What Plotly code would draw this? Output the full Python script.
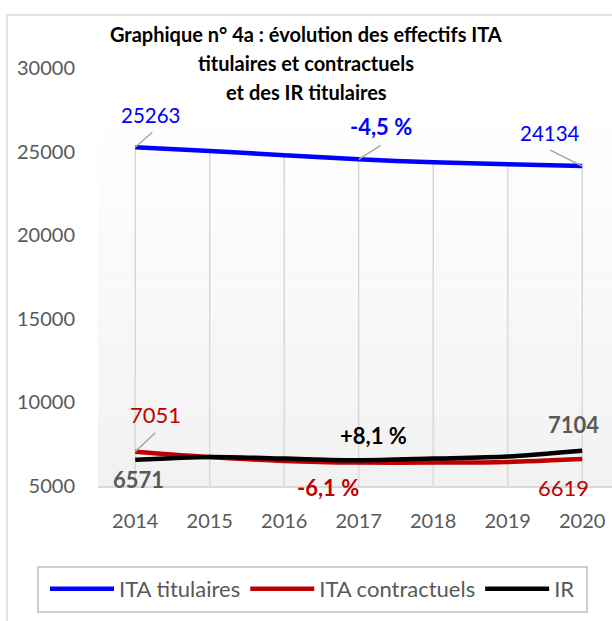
import plotly.graph_objects as go

years = [2014, 2015, 2016, 2017, 2018, 2019, 2020]
ita_titulaires = [25263, 25040, 24780, 24540, 24360, 24240, 24134]
ita_contractuels = [7051, 6730, 6500, 6400, 6400, 6440, 6619]
ir = [6571, 6740, 6640, 6540, 6640, 6760, 7104]
series_names = ["ITA titulaires", "ITA contractuels", "IR"]
y_ticks = [5000, 10000, 15000, 20000, 25000, 30000]
title_lines = ["Graphique n° 4a : évolution des effectifs ITA",
               "titulaires et contractuels",
               "et des IR titulaires"]

FONT = "Lato"
W, H = 612, 621
L, R, T, B = 98, 0, 68, 135
PW, PH = W - L - R, H - T - B


def px_x(p):
    return (p - L) / PW


def px_y(p):
    return (H - B - p) / PH


fig = go.Figure()
colors = ["#0000ff", "#c00000", "#000000"]
for name, vals, col in zip(series_names, [ita_titulaires, ita_contractuels, ir], colors):
    fig.add_trace(go.Scatter(
        x=years, y=vals, name=name, mode="lines",
        line=dict(color=col, width=4.5, shape="spline", smoothing=0.8),
        hoverinfo="x+y+name"))

shapes = []
# plot-area gradient (white at top to light grey at bottom)
n = 30
ytop, ybot = 26700, 5000
for i in range(n):
    y0 = ybot + (ytop - ybot) * i / n
    y1 = ybot + (ytop - ybot) * (i + 1) / n
    f = (i + 0.5) / n
    c = int(242 + (255 - 242) * f)
    shapes.append(dict(type="rect", xref="paper", yref="y", x0=0, x1=1, y0=y0, y1=y1,
                       fillcolor=f"rgb({c},{c},{c})", line=dict(width=0), layer="below"))
# drop lines from the highest series to the axis
for xv, yv in zip(years, ita_titulaires):
    shapes.append(dict(type="line", xref="x", yref="y", x0=xv, x1=xv, y0=5000, y1=yv,
                       line=dict(color="#d9d9d9", width=1.5), layer="below"))
# chart outer border
shapes.append(dict(type="rect", xref="paper", yref="paper",
                   x0=px_x(7), x1=2, y0=-2, y1=px_y(15),
                   line=dict(color="#d9d9d9", width=1.5), fillcolor="rgba(0,0,0,0)", layer="below"))
# legend frame
shapes.append(dict(type="rect", xref="paper", yref="paper",
                   x0=px_x(38), x1=px_x(587), y0=px_y(612), y1=px_y(567),
                   line=dict(color="#bfbfbf", width=1.5), fillcolor="white", layer="below"))


# leader lines (pixel offsets from the data point)
def leader(xv, yv, dx, dy):
    return dict(type="line", xref="x", yref="y", xsizemode="pixel", ysizemode="pixel",
                xanchor=xv, yanchor=yv, x0=0, y0=0, x1=dx, y1=dy,
                line=dict(color="#a6a6a6", width=1.5))


shapes.append(leader(years[0], ita_titulaires[0], 17, 15))
shapes.append(leader(years[3], ita_titulaires[3], 22, 14))
shapes.append(leader(years[6], ita_titulaires[6], -32, 16))
shapes.append(leader(years[0], ita_contractuels[0], 20, 19))


def pct(a, b):
    v = (b - a) / a * 100
    s = f"{v:.1f}".replace(".", ",")
    return ("+" + s if v > 0 else s) + " %"


ann = []


def lab(xv, yv, text, dx, dy, color, bold=False, size=20):
    ann.append(dict(x=xv, y=yv, xref="x", yref="y", text=f"<b>{text}</b>" if bold else text,
                    showarrow=False, xshift=dx, yshift=dy, xanchor="center", yanchor="middle",
                    font=dict(family=FONT, size=size, color=color)))


lab(years[0], ita_titulaires[0], str(ita_titulaires[0]), 15, 32, "#0000ff", size=20.5)
lab(years[3], ita_titulaires[3], pct(ita_titulaires[0], ita_titulaires[-1]), 22, 33, "#0000ff", True, 22)
lab(years[6], ita_titulaires[6], str(ita_titulaires[6]), -32, 33, "#0000ff", size=20.5)
lab(years[0], ita_contractuels[0], str(ita_contractuels[0]), 20, 37, "#c00000", size=22)
lab(years[6], ita_contractuels[6], str(ita_contractuels[6]), -19, -29, "#c00000", size=22)
lab(years[3], ita_contractuels[3], pct(ita_contractuels[0], ita_contractuels[-1]), -31, -25, "#c00000", True, 22)
lab(years[0], ir[0], str(ir[0]), 3, -20, "#595959", True, 22)
lab(years[6], ir[6], str(ir[6]), -9, 26, "#595959", True, 22)
lab(years[3], ir[3], pct(ir[0], ir[-1]), 15, 25, "#000000", True, 22)

# title lines
for txt, ypx in zip(title_lines, [34, 63, 92]):
    ann.append(dict(x=px_x(306), y=px_y(ypx),
                    xref="paper", yref="paper", text=f"<b>{txt}</b>", showarrow=False,
                    xanchor="center", yanchor="middle",
                    font=dict(family=FONT, size=20, color="#000000")))

fig.update_layout(
    width=W, height=H,
    margin=dict(l=L, r=R, t=T, b=B, pad=0, autoexpand=False),
    paper_bgcolor="white", plot_bgcolor="white",
    font=dict(family=FONT, size=20, color="#595959"),
    shapes=shapes, annotations=ann,
    showlegend=True,
    legend=dict(orientation="h", x=px_x(45), xanchor="left",
                y=px_y(568), yanchor="top",
                borderwidth=0, bgcolor="rgba(0,0,0,0)",
                font=dict(family=FONT, size=22, color="#595959"),
                itemwidth=64, tracegroupgap=0),
    xaxis=dict(range=[2013.5, 2020.40], tickvals=years, ticktext=[str(y) for y in years],
               showgrid=False, zeroline=False, showline=True, linecolor="#d9d9d9", linewidth=1.5,
               ticks="", ticklabelstandoff=16, fixedrange=True, automargin=False,
               tickfont=dict(family=FONT, size=20, color="#595959")),
    yaxis=dict(range=[5000, 30000], tickvals=y_ticks, ticktext=[str(v) for v in y_ticks],
               showgrid=False, zeroline=False,
               showline=False, ticks="", ticklabelstandoff=22, fixedrange=True, automargin=False,
               tickfont=dict(family=FONT, size=20, color="#595959")),
)

fig.write_html("out.html", config={"displayModeBar": False},
               post_script="document.body.style.margin='0';document.body.style.overflow='hidden';")
